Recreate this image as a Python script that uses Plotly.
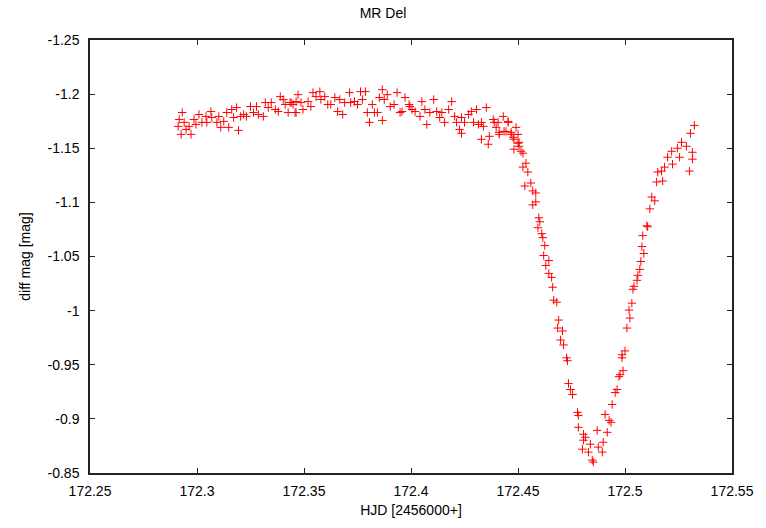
import plotly.graph_objects as go

# HJD - 2456000 (days)
hjd = [
    172.2931, 172.2917, 172.2912, 172.2926, 172.2940, 172.2949, 172.2963, 172.2972, 172.2986, 172.2995,
    172.3009, 172.3023, 172.3042, 172.3046, 172.3065, 172.3069, 172.3093, 172.3102, 172.3111, 172.3125,
    172.3139, 172.3148, 172.3162, 172.3171, 172.3185, 172.3194, 172.3204, 172.3218, 172.3231, 172.3250,
    172.3264, 172.3278, 172.3287, 172.3310, 172.3319, 172.3333, 172.3347, 172.3366, 172.3380, 172.3389,
    172.3403, 172.3412, 172.3426, 172.3440, 172.3458, 172.3463,
    172.3435, 172.3449, 172.3472, 172.3463, 172.3486, 172.3495, 172.3519, 172.3532, 172.3542, 172.3556,
    172.3574, 172.3579, 172.3597, 172.3611, 172.3625, 172.3644, 172.3657, 172.3667, 172.3681, 172.3690,
    172.3713, 172.3718, 172.3736, 172.3750, 172.3764, 172.3773, 172.3787, 172.3796, 172.3806, 172.3819,
    172.3829, 172.3843, 172.3852, 172.3866, 172.3875, 172.3866, 172.3889, 172.3903, 172.3921, 172.3935,
    172.3949, 172.3958, 172.3972, 172.3991, 172.4005, 172.4019,
    172.3995, 172.4042, 172.4051, 172.4065, 172.4074, 172.4088, 172.4106, 172.4120, 172.4134, 172.4144,
    172.4157, 172.4176, 172.4190, 172.4204, 172.4213, 172.4227, 172.4236, 172.4250, 172.4236, 172.4269,
    172.4282, 172.4292, 172.4306, 172.4315, 172.4329, 172.4338, 172.4352, 172.4329, 172.4361, 172.4366,
    172.4384, 172.4389, 172.4398, 172.4412, 172.4431, 172.4444, 172.4454, 172.4468, 172.4477, 172.4491,
    172.4505, 172.4481, 172.4514,
    172.4407, 172.4454, 172.4412, 172.4435, 172.4468, 172.4500, 172.4481, 172.4500, 172.4505, 172.4523,
    172.4537, 172.4523, 172.4546, 172.4532, 172.4560, 172.4569, 172.4583, 172.4569, 172.4583, 172.4597,
    172.4602, 172.4593, 172.4611, 172.4616, 172.4625, 172.4620, 172.4644, 172.4630, 172.4644, 172.4657,
    172.4662, 172.4667, 172.4681,
    172.4690, 172.4685, 172.4708, 172.4699, 172.4713, 172.4727, 172.4731, 172.4736, 172.4745, 172.4755,
    172.4778, 172.4782, 172.4782, 172.4806, 172.4815, 172.4801, 172.4806, 172.4838, 172.4829, 172.4847,
    172.4852, 172.4870, 172.4875, 172.4894, 172.4898, 172.4917, 172.4907, 172.4926, 172.4935, 172.4940,
    172.4954, 172.4963, 172.4972, 172.4977, 172.4991, 172.4986, 172.4986, 172.5000, 172.5009, 172.5023,
    172.5019, 172.5032,
    172.5042, 172.5037, 172.5056, 172.5060, 172.5069, 172.5074, 172.5088, 172.5079, 172.5083, 172.5106,
    172.5102, 172.5116, 172.5139, 172.5125, 172.5148, 172.5176, 172.5153, 172.5171, 172.5185, 172.5301,
    172.5222, 172.5315, 172.5255, 172.5199, 172.5315, 172.5218, 172.5245, 172.5287, 172.5264, 172.5306,
    172.5324,
]

# differential magnitude (mag)
dmag = [
    -1.1830, -1.1766, -1.1702, -1.1628, -1.1739, -1.1674, -1.1702, -1.1628, -1.1766, -1.1720,
    -1.1812, -1.1739, -1.1794, -1.1739, -1.1839, -1.1784, -1.1739, -1.1794, -1.1693, -1.1748,
    -1.1830, -1.1693, -1.1858, -1.1784, -1.1876, -1.1665, -1.1794, -1.1812, -1.1794, -1.1885,
    -1.1830, -1.1885, -1.1812, -1.1794, -1.1922, -1.1876, -1.1922, -1.1858, -1.1839, -1.1977,
    -1.1950, -1.1904, -1.1830, -1.1922, -1.1830, -1.1931,
    -1.1922, -1.1904, -1.1995, -1.1830, -1.1922, -1.1858, -1.1931, -1.1885, -1.2014, -1.1977,
    -1.2023, -1.1950, -1.1977, -1.1904, -1.1904, -1.1968, -1.1839, -1.1950, -1.1812, -1.1922,
    -1.2014, -1.1922, -1.1931, -1.1904, -1.2023, -1.1950, -1.2023, -1.1830, -1.1739, -1.1904,
    -1.1830, -1.1830, -1.1968, -1.2041, -1.1950, -1.1757, -1.1995, -1.1885, -1.1904, -1.2014,
    -1.1830, -1.1839, -1.1968, -1.1904, -1.1858, -1.1839,
    -1.1885, -1.1794, -1.1931, -1.1858, -1.1720, -1.1830, -1.1950, -1.1839, -1.1784, -1.1830,
    -1.1739, -1.1858, -1.1931, -1.1794, -1.1739, -1.1674, -1.1784, -1.1739, -1.1638, -1.1812,
    -1.1839, -1.1739, -1.1858, -1.1720, -1.1739, -1.1702, -1.1876, -1.1583, -1.1537, -1.1610,
    -1.1766, -1.1739, -1.1693, -1.1647, -1.1794, -1.1656, -1.1748, -1.1647, -1.1601, -1.1693,
    -1.1555, -1.1491, -1.1472,
    -1.1739, -1.1739, -1.1628, -1.1656, -1.1628, -1.1628, -1.1583, -1.1546, -1.1518, -1.1454,
    -1.1362, -1.1326, -1.1280, -1.1151, -1.1179, -1.1106, -1.1087, -1.0977, -1.1005, -1.0858,
    -1.0821, -1.0766, -1.0711, -1.0674, -1.0601, -1.0509, -1.0463, -1.0417, -1.0344, -1.0307,
    -1.0216, -1.0096, -1.0078,
    -0.9913, -0.9839, -0.9812, -0.9729, -0.9683, -0.9564, -0.9537, -0.9326, -0.9271, -0.9225,
    -0.9060, -0.9032, -0.8922, -0.8858, -0.8830, -0.8720, -0.8803, -0.8766, -0.8693, -0.8619,
    -0.8601, -0.8894, -0.8739, -0.8693, -0.8784, -0.8876, -0.9041, -0.8986, -0.8968, -0.9133,
    -0.9243, -0.9271, -0.9390, -0.9408, -0.9445, -0.9564, -0.9592, -0.9628, -0.9839, -0.9931,
    -1.0005, -1.0069,
    -1.0225, -1.0197, -1.0280, -1.0326, -1.0381, -1.0454, -1.0528, -1.0592, -1.0693, -1.0775,
    -1.0784, -1.0940, -1.1014, -1.1050, -1.1188, -1.1197, -1.1280, -1.1289, -1.1326, -1.1289,
    -1.1353, -1.1399, -1.1417, -1.1417, -1.1463, -1.1472, -1.1500, -1.1518, -1.1555, -1.1638,
    -1.1711,
]

x_tickvals = [172.25, 172.3, 172.35, 172.4, 172.45, 172.5, 172.55]
x_ticktext = ["172.25", "172.3", "172.35", "172.4", "172.45", "172.5", "172.55"]
y_tickvals = [-1.25, -1.2, -1.15, -1.1, -1.05, -1.0, -0.95, -0.9, -0.85]
y_ticktext = ["-1.25", "-1.2", "-1.15", "-1.1", "-1.05", "-1", "-0.95", "-0.9", "-0.85"]

FONT = "Liberation Sans, Arial, sans-serif"

fig = go.Figure()
fig.add_trace(go.Scatter(
    x=hjd, y=dmag, mode="markers",
    marker=dict(symbol="cross-thin", size=6, color="red",
                line=dict(color="red", width=1)),
    showlegend=False, hoverinfo="x+y",
))

axis_common = dict(
    showgrid=False, zeroline=False, showline=True, linecolor="#222222", linewidth=1.5,
    mirror="ticks", ticks="inside", ticklen=5, tickwidth=1, tickcolor="#222222",
    tickfont=dict(family=FONT, size=14, color="black"),
)

fig.update_layout(
    width=766, height=528,
    margin=dict(l=90, r=27, t=40, b=52),
    paper_bgcolor="white", plot_bgcolor="white",
    title=dict(text="MR Del", x=0.5, xref="container", xanchor="center",
               y=0.975, yref="container", yanchor="middle",
               font=dict(family=FONT, size=14, color="black")),
    xaxis=dict(range=[172.25, 172.55], tickvals=x_tickvals, ticktext=x_ticktext,
               title=dict(text="HJD [2456000+]", standoff=8,
                          font=dict(family=FONT, size=14, color="black")),
               ticklabelstandoff=4, **axis_common),
    yaxis=dict(range=[-0.85, -1.25], tickvals=y_tickvals, ticktext=y_ticktext,
               title=dict(text="diff mag [mag]", standoff=14,
                          font=dict(family=FONT, size=14, color="black")),
               ticklabelstandoff=6, **axis_common),
    font=dict(family=FONT, size=14, color="black"),
)

fig.write_html("out.html")
